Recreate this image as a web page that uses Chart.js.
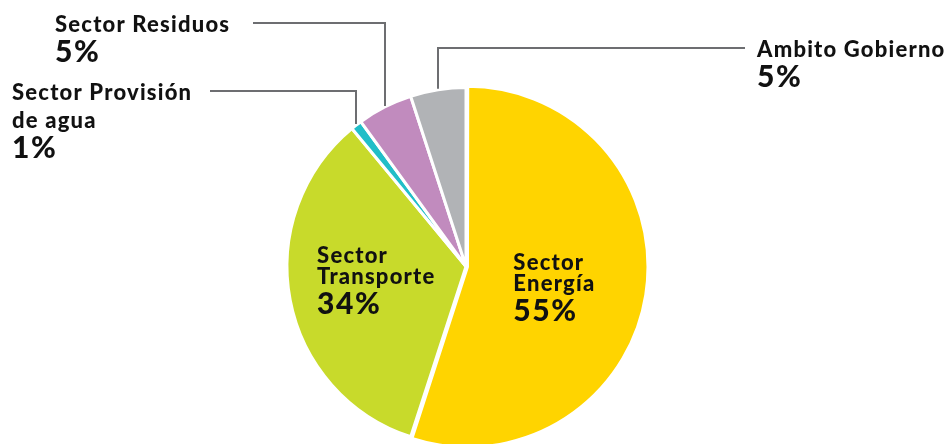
<!DOCTYPE html>
<html>
<head>
<meta charset="utf-8">
<script src="https://cdn.jsdelivr.net/npm/chart.js@4.4.0/dist/chart.umd.min.js"></script>
<style>
  html, body { margin: 0; padding: 0; background: #fff; }
</style>
</head>
<body>
<canvas id="myPie" width="951" height="444"></canvas>
<script>
var sectors = ['Sector Energía', 'Sector Transporte', 'Sector Provisión de agua', 'Sector Residuos', 'Ambito Gobierno'];
var shares = [55, 34, 1, 5, 5];
var colors = ['#FFD400', '#C8DA2B', '#21BEC8', '#C18BBE', '#B1B3B6'];
// line breaks for each sector name
var nameLines = [['Sector', 'Energía'], ['Sector', 'Transporte'], ['Sector Provisión', 'de agua'], ['Sector Residuos'], ['Ambito Gobierno']];

// where the text goes: inside ones hang off the slice centre, the rest get a leader line
var labelSpots = [
    { inside: true, dx: -44, dy: -11, gap: 21 },
    { inside: true, dx: -61, dy: -20, gap: 21 },
    { x: 12, y: 100, gap: 28, lineX: 210, lineY: 91 },
    { x: 55, y: 32, gap: 28, lineX: 253, lineY: 23 },
    { x: 757, y: 57, gap: 28, lineX: 745, lineY: 48 }
];

var pieLabels = {
    id: 'pieLabels',
    afterDatasetsDraw: function(chart) {
        var ctx = chart.ctx;
        var arcs = chart.getDatasetMeta(0).data;
        ctx.save();
        ctx.fillStyle = '#111';
        ctx.textAlign = 'left';
        ctx.textBaseline = 'alphabetic';
        arcs.forEach(function(arc, i) {
            var spot = labelSpots[i];
            var x, y;
            if (spot.inside) {
                var p = arc.tooltipPosition();
                x = p.x + spot.dx;
                y = p.y + spot.dy;
            } else {
                x = spot.x;
                y = spot.y;
                var mid = (arc.startAngle + arc.endAngle) / 2;
                var ex = Math.round(arc.x + Math.cos(mid) * arc.outerRadius);
                var ey = arc.y + Math.sin(mid) * arc.outerRadius;
                ctx.strokeStyle = '#6D6E71';
                ctx.lineWidth = 2;
                ctx.beginPath();
                ctx.moveTo(spot.lineX, spot.lineY);
                ctx.lineTo(ex, spot.lineY);
                ctx.lineTo(ex, ey - 1);
                ctx.stroke();
            }
            ctx.letterSpacing = '1.2px';
            ctx.font = '900 22px Lato';
            nameLines[i].forEach(function(t, k) {
                ctx.fillText(t, x, y + k * spot.gap);
            });
            ctx.letterSpacing = '1.6px';
            ctx.font = '900 30px Lato';
            ctx.fillText(shares[i] + '%', x, y + (nameLines[i].length - 1) * spot.gap + 30);
        });
        ctx.restore();
    }
};

var ctx = document.getElementById('myPie');
var myPie = new Chart(ctx, {
    type: 'pie',
    data: {
        labels: sectors,
        datasets: [{
            data: shares,
            backgroundColor: colors,
            borderColor: '#ffffff',
            borderWidth: 3,
            offset: [6, 0, 0, 0, 0],
            hoverOffset: 0
        }]
    },
    options: {
        responsive: false,
        animation: false,
        radius: 179,
        layout: {
            padding: { top: 89, bottom: 0, left: 0, right: 19 }
        },
        plugins: {
            legend: { display: false },
            tooltip: { enabled: false }
        }
    },
    plugins: [pieLabels]
});
</script>
</body>
</html>
